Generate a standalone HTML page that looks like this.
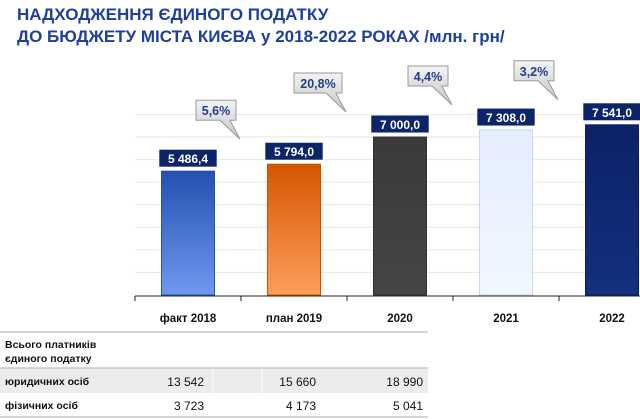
<!DOCTYPE html>
<html><head><meta charset="utf-8">
<style>
body{margin:0;width:640px;height:419px;background:#fff;overflow:hidden;font-family:"Liberation Sans","DejaVu Sans",sans-serif;}
.title{position:absolute;left:17px;font-weight:bold;font-size:17px;color:#1f3f9c;white-space:nowrap;}
</style></head><body>
<div class="title" style="top:5px">НАДХОДЖЕННЯ ЄДИНОГО ПОДАТКУ</div>
<div class="title" style="top:27px">ДО БЮДЖЕТУ МІСТА КИЄВА у 2018-2022 РОКАХ /млн. грн/</div>
<svg id="chart" width="640" height="419" style="position:absolute;left:0;top:0">
<defs>
<linearGradient id="g0" x1="0" y1="0" x2="0" y2="1"><stop offset="0" stop-color="#2450b0"/><stop offset="1" stop-color="#6f98f0"/></linearGradient>
<linearGradient id="g1" x1="0" y1="0" x2="0" y2="1"><stop offset="0" stop-color="#d45500"/><stop offset="1" stop-color="#ff9e5a"/></linearGradient>
<linearGradient id="g2" x1="0" y1="0" x2="0" y2="1"><stop offset="0" stop-color="#3a3a3a"/><stop offset="1" stop-color="#454545"/></linearGradient>
<linearGradient id="g3" x1="0" y1="0" x2="0" y2="1"><stop offset="0" stop-color="#e3eeff"/><stop offset="1" stop-color="#f2f7ff"/></linearGradient>
<linearGradient id="g4" x1="0" y1="0" x2="0" y2="1"><stop offset="0" stop-color="#0b2266"/><stop offset="1" stop-color="#13307e"/></linearGradient>
<linearGradient id="cg" x1="0" y1="0" x2="0" y2="1"><stop offset="0" stop-color="#f4f4f4"/><stop offset="1" stop-color="#c4c4c4"/></linearGradient>
</defs>
</svg>
<script>
const categories=["факт 2018","план 2019","2020","2021","2022"];
const values=[5486.4,5794.0,7000.0,7308.0,7541.0];
const valueLabels=["5 486,4","5 794,0","7 000,0","7 308,0","7 541,0"];
const growthLabels=["5,6%","20,8%","4,4%","3,2%"];
const gridTicks=[1000,2000,3000,4000,5000,6000,7000,8000];
const rowLegal=["13 542","15 660","18 990"];
const rowPhys=["3 723","4 173","5 041"];

const NS="http://www.w3.org/2000/svg";
const svg=document.getElementById('chart');
const x0=135,slot=106,baseY=295,k=0.02257,bw=53;
const xC=i=>x0+slot*i+53;
const yV=v=>baseY-v*k;
function mk(t,a,txt){const e=document.createElementNS(NS,t);for(const n in a)e.setAttribute(n,a[n]);if(txt!=null)e.textContent=txt;svg.appendChild(e);return e;}

gridTicks.forEach(v=>{
 const l=mk('line',{x1:x0,x2:640,y1:yV(v),y2:yV(v),stroke:'#e6e6e6','stroke-width':1});
 
 
});
const fills=['url(#g0)','url(#g1)','url(#g2)','url(#g3)','url(#g4)'];
const strokes=['#2a4fa0','#c85000','#303030','#c8d6ee','#0a1e5c'];
values.forEach((v,i)=>{
 const r=mk('rect',{x:xC(i)-bw/2,y:yV(v),width:bw,height:baseY-yV(v),fill:fills[i],stroke:strokes[i],'stroke-width':1});
 
 
 const w=valueLabels[i].length*7.2+8;
 const bx=mk('rect',{x:xC(i)-w/2,y:yV(v)-22,width:w,height:18,fill:'#0c2468',stroke:'#fff','stroke-width':1});
 
 
 const t=mk('text',{x:xC(i),y:yV(v)-8,'text-anchor':'middle','font-size':'12','font-weight':'bold',fill:'#fff'},valueLabels[i]);
 
 
 const c=mk('text',{x:xC(i),y:322,'text-anchor':'middle','font-size':'11.5','font-weight':'bold',fill:'#111'},categories[i]);
 
 
});
// axis
const ax=mk('line',{x1:x0,x2:640,y1:baseY+1,y2:baseY+1,stroke:'#222','stroke-width':1});


for(let i=0;i<5;i++){const tk=mk('line',{x1:x0+slot*i,x2:x0+slot*i,y1:baseY+1,y2:baseY+6,stroke:'#222'});
 
 }
// growth callouts
growthLabels.forEach((g,i)=>{
 const tipX=x0+slot*(i+1)-1, tipY=Math.min(yV(values[i+1])-2,yV(values[i])-12)+0;
 const ty=yV(values[i+1])-28;
 const bh=20,bwid=g.length*8+8;
 const bxR=tipX-4, bxL=bxR-bwid, byT=ty-36, byB=byT+bh;
 const p=mk('path',{d:`M${bxL},${byT} H${bxR} V${byB} H${bxR-6} L${tipX},${byB+19} L${bxR-16},${byB} H${bxL} Z`,fill:'url(#cg)',stroke:'#9a9a9a','stroke-width':1});
 
 
 const t=mk('text',{x:(bxL+bxR)/2,y:byT+15,'text-anchor':'middle','font-size':'12.5','font-weight':'bold',fill:'#24408c'},g);
 
 
});
// table
function line(y){const l=mk('line',{x1:0,x2:428,y1:y,y2:y,stroke:'#c8c8c8','stroke-width':1.5});}
const sh=mk('rect',{x:0,y:368,width:428,height:25,fill:'#ececec'});


[213,262].forEach(x=>{const l=mk('line',{x1:x,x2:x,y1:368,y2:393,stroke:'#fff'});});
line(332);line(368);line(417);
function txt(x,y,s,anchor,name){const t=mk('text',{x:x,y:y,'text-anchor':anchor,'font-size':'10.5','font-weight':'bold',fill:'#111'},s);}
txt(5,348,'Всього платників','start','table-header');
txt(5,362,'єдиного податку','start','table-header');
txt(5,385,'юридичних осіб','start','row-label-legal');
txt(5,409,'фізичних осіб','start','row-label-phys');
const colR=[204,316,423];
rowLegal.forEach((s,i)=>{const t=mk('text',{x:colR[i],y:386,'text-anchor':'end','font-size':'12',fill:'#111'},s);});
rowPhys.forEach((s,i)=>{const t=mk('text',{x:colR[i],y:410,'text-anchor':'end','font-size':'12',fill:'#111'},s);});
</script>
</body></html>
